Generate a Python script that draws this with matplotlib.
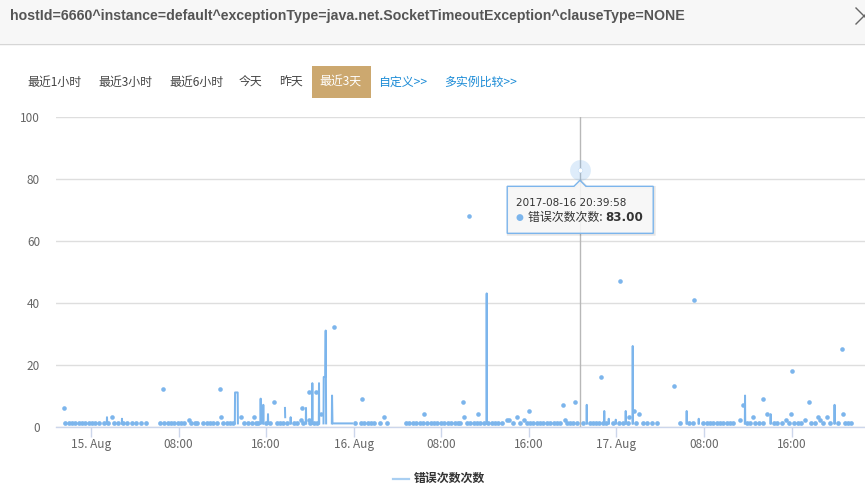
import matplotlib
matplotlib.use("Agg")
import matplotlib.pyplot as plt
import matplotlib.dates as mdates
from matplotlib.patches import Rectangle, Polygon
from datetime import datetime, timedelta

plt.rcParams['font.family'] = ['Noto Sans CJK SC', 'DejaVu Sans']

# ---------------- data ----------------
TITLE = "hostId=6660^instance=default^exceptionType=java.net.SocketTimeoutException^clauseType=NONE"
BUTTONS = ["最近1小时", "最近3小时", "最近6小时", "今天", "昨天", "最近3天"]
LINKS = ["自定义>>", "多实例比较>>"]
ACTIVE_BUTTON = "最近3天"
SERIES_NAME = "错误次数次数"
BASE = datetime(2017, 8, 15)

x_tick_hours = [0, 8, 16, 24, 32, 40, 48, 56, 64]
x_tick_labels = ["15. Aug", "08:00", "16:00", "16. Aug", "08:00", "16:00", "17. Aug", "08:00", "16:00"]
y_ticks = [0, 20, 40, 60, 80, 100]

# isolated samples with count 1 (hours since 2017-08-15 00:00)
baseline_value = 1
baseline_hours = [
    -2.35, -2.04, -1.74, -1.43, -1.12, -0.82, -0.52, -0.21, 0.09, 0.39, 0.70, 1.22, 1.53, 2.13, 2.44,
    2.90, 3.29, 3.72, 4.14, 4.57, 5.02,
    6.33, 6.70, 7.01, 7.31, 7.61, 7.92, 8.22, 8.52, 9.14, 9.50, 9.71,
    10.26, 10.57, 10.87, 11.17, 11.48, 12.09, 12.40, 12.70, 13.00, 13.98, 14.30, 14.71, 15.05, 15.26,
    15.96, 16.35, 16.97, 17.27, 17.57, 17.91, 18.52, 18.79, 19.41, 20.04, 20.37, 20.67,
    24.12, 24.70, 24.97, 25.28, 25.58, 25.88, 26.40, 27.01,
    28.75, 29.05, 29.42, 29.72, 30.03, 30.33, 30.70, 31.02, 31.34, 31.64, 31.98, 32.28, 32.62, 32.92,
    33.25, 33.56, 33.71, 34.35, 34.65, 34.96, 35.27, 35.57, 35.88,
    36.30, 36.61, 36.91, 37.21, 37.52, 38.53, 39.19, 39.81, 40.11, 40.41, 40.72, 41.02, 41.32, 41.63,
    41.93, 42.27, 42.55, 42.85, 43.46, 43.76, 44.06, 44.37, 44.98, 45.59, 45.89, 46.14, 46.44, 46.75,
    47.05, 47.66, 48.27, 48.58, 49.05, 49.79, 50.40, 50.77, 51.28, 51.68,
    53.81, 54.66, 54.97, 55.94, 56.25, 56.55, 56.85, 57.16, 57.46, 57.77, 58.08, 58.38, 58.68,
    59.96, 60.21, 60.69, 61.00, 61.42, 62.43, 62.67, 63.10, 63.77, 64.25, 64.56, 64.87,
    65.81, 66.12, 66.90, 67.52, 68.22, 68.86, 69.16, 69.46,
]

# other isolated samples
dot_hours = [-2.49, 1.89, 6.55, 8.95, 11.82, 11.90, 13.68, 14.89, 16.69, 19.16, 19.28, 19.89, 19.95,
             20.53, 20.98, 22.17, 24.76, 26.74, 30.45, 33.96, 34.05, 34.53, 35.36, 38.00, 38.20, 38.89,
             39.53, 39.99, 43.12, 43.28, 44.19, 44.666, 46.56, 48.33, 49.18, 49.64, 50.02, 53.23, 55.06,
             59.29, 59.54, 60.45, 61.37, 61.76, 63.47, 63.92, 64.04, 65.20, 65.57, 66.39, 66.60, 67.21,
             68.58, 68.70]
dot_values = [6, 3, 12, 2, 12, 3, 3, 3, 8, 2, 6, 11, 2,
              11, 4, 32, 9, 3, 4, 8, 3, 68, 4, 2, 2, 3,
              2, 5, 7, 2, 8, 83, 16, 47, 3, 5, 4, 13, 41,
              2, 7, 3, 9, 4, 2, 4, 18, 2, 8, 3, 2, 3,
              25, 4]

# runs of consecutive samples (drawn as connected lines)
run_hours = [
    [1.44, 1.46, 1.48], [2.81, 2.83, 2.85], [13.14, 13.16, 13.40, 13.42], [15.48, 15.50, 15.52],
    [15.72, 15.74, 15.76], [16.15, 16.17, 16.19], [17.72, 17.74], [18.22, 18.24, 18.26],
    [19.62, 19.64, 19.66], [20.20, 20.22, 20.24], [20.81, 20.83, 20.85],
    [21.24, 21.26, 21.40, 21.44, 21.48], [22.00, 22.02, 22.06, 23.84], [36.13, 36.15, 36.17],
    [45.27, 45.29, 45.31], [46.87, 46.89, 46.91], [47.28, 47.30, 47.32], [47.92, 47.94, 47.96],
    [48.83, 48.85, 48.87], [49.47, 49.49, 49.51], [54.40, 54.42, 54.44], [55.50, 55.52, 55.54],
    [59.73, 59.75, 59.77], [62.07, 62.09, 62.11], [67.91, 67.93, 67.95],
]
run_values = [
    [1, 3, 1], [1, 2.5, 1], [1, 11, 11, 1], [1, 9, 1],
    [1, 7, 1], [1, 4, 1], [6, 3], [1, 3, 1],
    [1, 6, 1], [1, 14, 1], [1, 14, 1],
    [1, 16, 16, 31, 1], [1, 10, 1, 1], [1, 43, 1],
    [1, 7, 1], [1, 5, 1], [1, 2.5, 1], [1, 2.2, 1],
    [1, 5, 1], [1, 26, 1], [1, 5, 1], [1, 2.5, 1],
    [1, 10, 1], [1, 4, 1], [1, 7, 1],
]

hover_time = datetime(2017, 8, 16, 20, 39, 58)
hover_value = 83

# ---------------- style / layout ----------------
W, H = 865, 501
SERIES_COLOR = "#7cb5ec"
X_START_H, X_END_H = -3.198, 70.71


def to_num(hours_list):
    return [mdates.date2num(BASE + timedelta(hours=h)) for h in hours_list]


fig = plt.figure(figsize=(W / 100, H / 100), dpi=100)
fig.patch.set_facecolor("white")

# background overlay (header, buttons, legend)
bg = fig.add_axes([0, 0, 1, 1], zorder=0)
bg.set_xlim(0, W)
bg.set_ylim(H, 0)
bg.axis("off")

bg.add_patch(Rectangle((0, 0), W, 43, facecolor="#f7f7f7", edgecolor="none"))
bg.plot([0, W], [43.5, 43.5], color="#d6d6d6", lw=1)
bg.text(10, 15.5, TITLE, fontsize=10.2, fontweight="bold", color="#555555",
        family=["Liberation Sans", "DejaVu Sans"], ha="left", va="center")
bg.plot([856, 872], [8, 24], color="#666666", lw=1)
bg.plot([856, 872], [24, 8], color="#666666", lw=1)

button_x = [27.6, 98, 169, 239, 279, 319]
for label, bx in zip(BUTTONS, button_x):
    if label == ACTIVE_BUTTON:
        bg.add_patch(Rectangle((312, 66), 59, 32, facecolor="#cca86f", edgecolor="none"))
        bg.text(bx, 82.5, label, fontsize=8.6, color="white", ha="left", va="center")
    else:
        bg.text(bx, 82.5, label, fontsize=8.6, color="#444444", ha="left", va="center")
link_x = [378, 444]
for label, lx in zip(LINKS, link_x):
    bg.text(lx, 82.5, label, fontsize=8.6, color="#1b8bd6", ha="left", va="center")

# legend
bg.plot([393, 409], [478.5, 478.5], color="#a9cff2", lw=1.6)
bg.text(414, 478.5, SERIES_NAME, fontsize=8.6, fontweight="bold", color="#333333",
        ha="left", va="center")

# chart axes
left_px, right_px, top_px, bottom_px = 56, 865, 117, 426.5
ax = fig.add_axes([left_px / W, (H - bottom_px) / H, (right_px - left_px) / W,
                   (bottom_px - top_px) / H], zorder=2)
ax.patch.set_alpha(0)
ax.set_xlim(to_num([X_START_H])[0], to_num([X_END_H])[0])
ax.set_ylim(0, 100)
ax.set_yticks(y_ticks)
ax.set_yticklabels([str(v) for v in y_ticks])
ax.set_xticks(to_num(x_tick_hours))
ax.set_xticklabels(x_tick_labels)
ax.grid(axis="y", color="#dedede", lw=1)
ax.set_axisbelow(True)
for s in ["top", "right", "left"]:
    ax.spines[s].set_visible(False)
ax.spines["bottom"].set_color("#ccd6eb")
ax.spines["bottom"].set_linewidth(1)
ax.tick_params(axis="y", length=0, pad=11.5, labelsize=8.5, labelcolor="#666666")
ax.tick_params(axis="x", length=7, width=1, color="#ccd6eb", pad=1.2, labelsize=8.5,
               labelcolor="#666666")

hover_num = mdates.date2num(hover_time)
ax.axvline(hover_num, color="#b8b8b8", lw=1, zorder=2)

for hs, vs in zip(run_hours, run_values):
    ax.plot(to_num(hs), vs, color=SERIES_COLOR, lw=1.44, zorder=3, clip_on=False)

ax.plot(to_num(baseline_hours), [baseline_value] * len(baseline_hours), "o", ms=3.4, mew=0,
        color=SERIES_COLOR, zorder=3, clip_on=False)
ax.plot(to_num(dot_hours), dot_values, "o", ms=3.3, mew=0, color=SERIES_COLOR, zorder=3,
        clip_on=False)

# hover marker
ax.plot([hover_num], [hover_value], "o", ms=15, mew=0, color=SERIES_COLOR, alpha=0.25, zorder=4)
ax.plot([hover_num], [hover_value], "o", ms=3.2, mew=0, color="white", zorder=5)

# tooltip overlay
top = fig.add_axes([0, 0, 1, 1], zorder=5)
top.set_xlim(0, W)
top.set_ylim(H, 0)
top.axis("off")
top.patch.set_alpha(0)
fig.canvas.draw()
disp = ax.transData.transform((hover_num, hover_value))
px, py = top.transData.inverted().transform(disp)

l, r, t, b = px - 72.7, px + 73.3, py + 16.7, py + 63.7
shape = [(l, t), (px - 6, t), (px, t - 6), (px + 6, t), (r, t), (r, b), (l, b)]
shadow = [(x + 1, y + 1) for x, y in shape]
top.add_patch(Polygon(shadow, closed=True, facecolor="none", edgecolor=(0, 0, 0, 0.10), lw=2))
top.add_patch(Polygon(shape, closed=True, facecolor=(0.97, 0.97, 0.97, 0.88),
                      edgecolor=SERIES_COLOR, lw=1))
top.text(px - 64, py + 33, hover_time.strftime("%Y-%m-%d %H:%M:%S"), fontsize=7.45,
         family=["DejaVu Sans"], color="#333333", ha="left", va="center")
top.text(px - 60, py + 48, "●", fontsize=6.5, color=SERIES_COLOR, ha="center", va="center",
         family=["DejaVu Sans"])
t1 = top.text(px - 52, py + 48, SERIES_NAME + ": ", fontsize=8.6, color="#333333",
              ha="left", va="center")
top.annotate(f"{hover_value:.2f}", xy=(1, 0.5), xycoords=t1, fontsize=8.6, fontweight="bold",
             color="#333333", ha="left", va="center", family=["DejaVu Sans"])

fig.savefig("out.png", dpi=100)
